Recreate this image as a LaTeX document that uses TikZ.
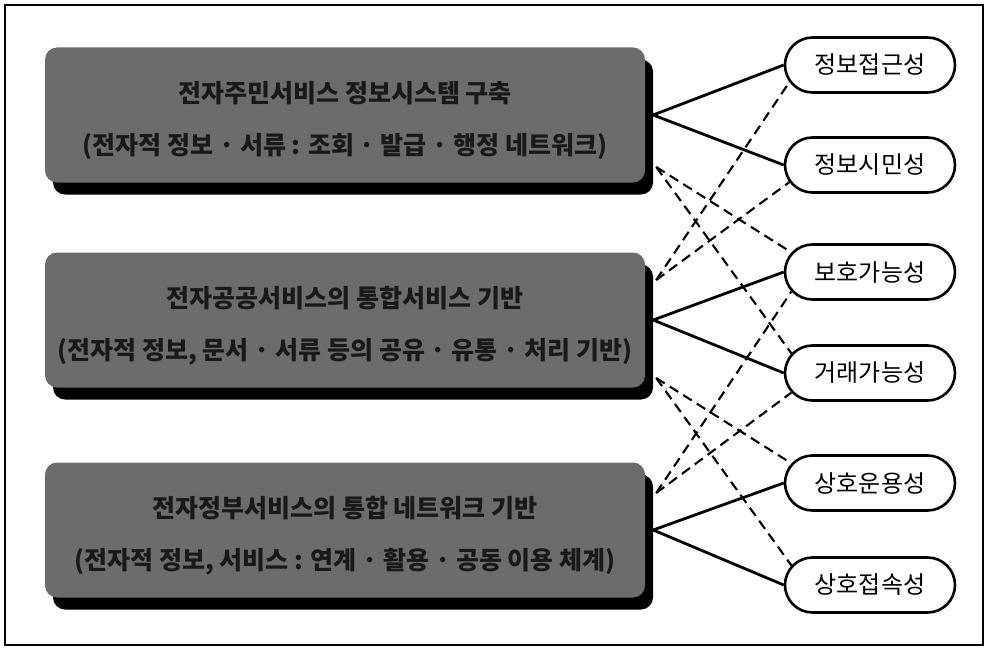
\documentclass[tikz,border=0pt]{standalone}
\usepackage{fontspec}
\newfontfamily\kr{Noto Sans CJK KR}
\usetikzlibrary{shapes.misc,shadows,calc}
\definecolor{boxgrey}{RGB}{108,108,108}

\begin{document}
\begin{tikzpicture}[x=1pt,y=-1pt,
  pill/.style={rounded rectangle, draw=black, line width=2.6pt, fill=white,
    minimum width=170pt, minimum height=55pt, inner sep=0pt,
    font=\kr\fontsize{24}{26}\selectfont},
  stage/.style={rounded corners=12pt, fill=boxgrey,
    minimum width=600pt, minimum height=135pt,
    drop shadow={shadow xshift=8pt, shadow yshift=-12pt, fill=black, opacity=1}},
  stagetext/.style={align=center, text=black!90, inner sep=0pt,
    font=\kr\bfseries\fontsize{25}{52}\selectfont},
  link/.style={line width=2.8pt},
  cross/.style={line width=2.1pt, dash pattern=on 10pt off 6pt}]

\useasboundingbox (0,0) rectangle (988,650);
\draw[line width=1.6pt] (5,5) rectangle (983,645);

% three stages
\node[stage] (b1) at (345,115) {};
\node[stage] (b2) at (345,320) {};
\node[stage] (b3) at (345,530) {};
\node[stagetext] (b1t) at ($(b1.center)+(0,-6pt)$) {전자주민서비스 정보시스템 구축\\(전자적 정보 · 서류 : 조회 · 발급 · 행정 네트워크)};
\node[stagetext] (b2t) at ($(b2.center)+(0,-6pt)$) {전자공공서비스의 통합서비스 기반\\(전자적 정보, 문서 · 서류 등의 공유 · 유통 · 처리 기반)};
\node[stagetext] (b3t) at ($(b3.center)+(0,-6pt)$) {전자정부서비스의 통합 네트워크 기반\\(전자적 정보, 서비스 : 연계 · 활용 · 공동 이용 체계)};

% properties
\node[pill] (p1) at (870,65)  {정보접근성};
\node[pill] (p2) at (870,165) {정보시민성};
\node[pill] (p3) at (870,272) {보호가능성};
\node[pill] (p4) at (870,373) {거래가능성};
\node[pill] (p5) at (870,483) {상호운용성};
\node[pill] (p6) at (870,585) {상호접속성};

% exit points on the right side of each stage
\coordinate (b1s) at ($(b1.east)+(8pt,0pt)$);
\coordinate (b1d) at ($(b1.east)+(11pt,-52pt)$);
\coordinate (b2u) at ($(b2.east)+(11pt,40pt)$);
\coordinate (b2s) at ($(b2.east)+(8pt,0pt)$);
\coordinate (b2d) at ($(b2.east)+(11pt,-58pt)$);
\coordinate (b3u) at ($(b3.east)+(11pt,37pt)$);
\coordinate (b3s) at ($(b3.east)+(8pt,0pt)$);

% dashed cross links
\draw[cross] (b1d) -- (p3.166);
\draw[cross] (b1d) -- (p4.166);
\draw[cross] (b2u) -- (p1.192);
\draw[cross] (b2u) -- (p2.192);
\draw[cross] (b2d) -- (p5.166);
\draw[cross] (b2d) -- (p6.166);
\draw[cross] (b3u) -- (p3.194);
\draw[cross] (b3u) -- (p4.194);

% solid links
\draw[link] (b1s) -- (p1.west);
\draw[link] (b1s) -- (p2.west);
\draw[link] (b2s) -- (p3.west);
\draw[link] (b2s) -- (p4.west);
\draw[link] (b3s) -- (p5.west);
\draw[link] (b3s) -- (p6.west);
\end{tikzpicture}
\end{document}
